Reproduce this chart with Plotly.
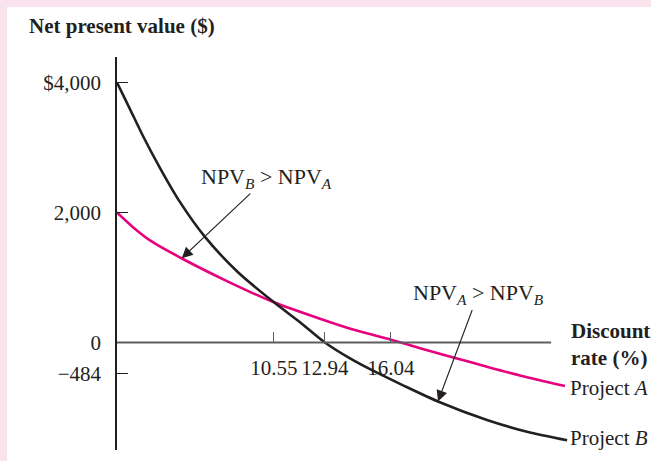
import plotly.graph_objects as go

# ---- data ----
rate_a = [3.18, 3.93, 4.73, 6.23, 8.34, 10.55, 12.71, 14.26, 16.04, 17.41, 18.97, 20.55, 22.10, 24.21]
npv_a = [2000, 1774, 1571, 1292, 945, 618, 365, 199, 41, -87, -230, -373, -508, -671]
rate_b = [3.18, 3.79, 4.40, 5.20, 6.14, 7.31, 8.86, 10.55, 11.77, 12.94, 14.12, 15.06, 16.61, 18.25, 20.55, 22.43, 24.31]
npv_b = [4000, 3591, 3177, 2684, 2159, 1624, 1081, 618, 312, 0, -245, -411, -659, -907, -1192, -1373, -1504]
y_tick_vals = [4000, 2000, 0, -484]
y_tick_text = ["$4,000", "2,000", "0", "\u2212484"]
x_tick_vals = [10.55, 12.94, 16.04]
x_tick_text = ["10.55", "12.94", "16.04"]
series_names = ["Project A", "Project B"]

FONT = "Liberation Serif"
FS = 21
INK = "#231f20"
PINK = "#e6007e"
AXGRAY = "#5e5e5e"

X_RANGE = [3.18, 24.447]
Y_RANGE = [-1654, 4392]

fig = go.Figure()
fig.add_trace(go.Scatter(x=rate_a, y=npv_a, mode="lines", name=series_names[0],
                         line=dict(color=PINK, width=2.6, shape="spline", smoothing=0.8)))
fig.add_trace(go.Scatter(x=rate_b, y=npv_b, mode="lines", name=series_names[1],
                         line=dict(color=INK, width=2.6, shape="spline", smoothing=0.8)))

zero_pos = (0 - Y_RANGE[0]) / (Y_RANGE[1] - Y_RANGE[0])

fig.update_layout(
    width=651, height=461,
    margin=dict(l=117, r=81, t=57, b=11),
    paper_bgcolor="#fbe3ee",
    plot_bgcolor="white",
    showlegend=False,
    font=dict(family=FONT, size=FS, color=INK),
    xaxis=dict(range=X_RANGE, showgrid=False, zeroline=False, showline=False,
               anchor="free", position=zero_pos,
               tickmode="array", tickvals=x_tick_vals, ticktext=x_tick_text,
               ticks="inside", ticklen=10, tickwidth=1.3, tickcolor=AXGRAY,
               tickfont=dict(family=FONT, size=FS, color=INK), ticklabelstandoff=11),
    yaxis=dict(range=Y_RANGE, showgrid=False, zeroline=False, showline=True,
               linecolor=INK, linewidth=1.5,
               tickmode="array", tickvals=y_tick_vals, ticktext=y_tick_text,
               ticks="inside", ticklen=11, tickwidth=1.3, tickcolor=INK,
               tickfont=dict(family=FONT, size=FS, color=INK), ticklabelstandoff=10),
    shapes=[
        dict(type="rect", xref="paper", yref="paper", x0=-0.2428, x1=1.3, y0=-0.1, y1=1.1272,
             fillcolor="white", line=dict(width=0), layer="below"),
        dict(type="line", xref="x", yref="y", x0=X_RANGE[0], x1=23.56, y0=0, y1=0,
             line=dict(color=AXGRAY, width=2)),
    ],
    annotations=[
        dict(text="<b>Net present value ($)</b>", xref="paper", yref="paper",
             x=-0.1987, y=1.078, xanchor="left", yanchor="middle", showarrow=False),
        dict(text="<b>Discount<br>rate (%)</b>", xref="paper", yref="paper",
             x=0.9978, y=0.2697, xanchor="left", yanchor="middle", align="left", showarrow=False),
        dict(text="Project <i>A</i>", x=rate_a[-1], y=npv_a[-1], xanchor="left", yanchor="middle",
             xshift=3, yshift=-2, showarrow=False),
        dict(text="Project <i>B</i>", x=rate_b[-1], y=npv_b[-1], xanchor="left", yanchor="middle",
             xshift=1, yshift=2, showarrow=False),
        dict(text="NPV<sub><i>B</i></sub> > NPV<sub><i>A</i></sub>", x=6.22, y=1297,
             ax=85, ay=-80, showarrow=True, arrowhead=2, arrowsize=2, arrowwidth=1.1,
             arrowcolor=INK, font=dict(size=22)),
        dict(text="NPV<sub><i>A</i></sub> > NPV<sub><i>B</i></sub>", x=18.25, y=-907,
             ax=40, ay=-107, showarrow=True, arrowhead=2, arrowsize=2, arrowwidth=1.1,
             arrowcolor=INK, font=dict(size=22)),
    ],
)

fig.write_html("out.html", config={"displayModeBar": False},
               post_script="document.body.style.margin='0';document.body.style.overflow='hidden';")
